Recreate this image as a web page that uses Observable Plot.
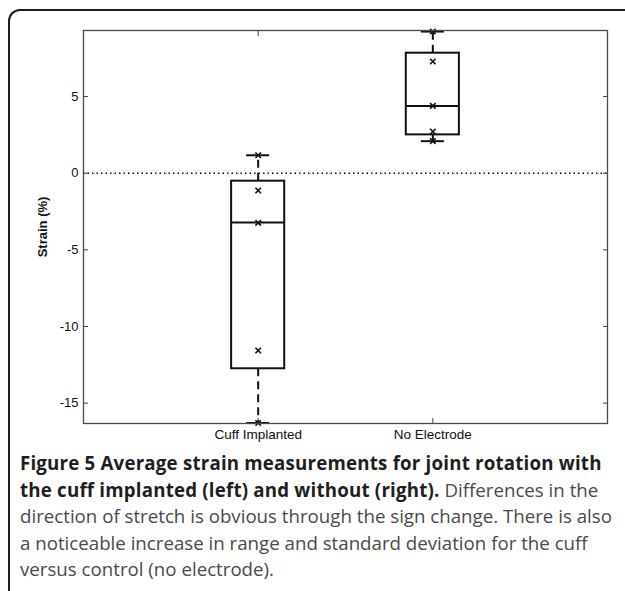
<!DOCTYPE html>
<html>
<head>
<meta charset="utf-8">
<script src="https://cdn.jsdelivr.net/npm/d3@7"></script>
<script src="https://cdn.jsdelivr.net/npm/@observablehq/plot@0.6"></script>
<style>
  html, body { margin: 0; padding: 0; background: #fff; width: 625px; height: 591px; overflow: hidden; }
  #wrap { position: relative; width: 625px; height: 591px; }
  #border { position: absolute; left: 8px; top: 9px; width: 700px; height: 700px;
            border-top: 2px solid #1e1e1e; border-left: 2px solid #1e1e1e; border-top-left-radius: 12px; box-sizing: border-box; }
  #chart { position: absolute; left: 0; top: 0; }
  #caption { position: absolute; left: 20px; top: 450px; width: 605px;
             font-family: "Open Sans", sans-serif; font-size: 18.7px; line-height: 26.5px; color: #4a4a4a; white-space: nowrap; }
  #caption b { color: #1e1e1e; font-weight: 700; letter-spacing: 0.2px; }
</style>
</head>
<body>
<div id="wrap">
  <div id="border"></div>
  <div id="chart"></div>
  <div id="caption"></div>
</div>
<script>
// ---- data ----
const groups = ["Cuff Implanted", "No Electrode"];
const q1 = [-12.76, 2.50];
const medians = [-3.22, 4.39];
const q3 = [-0.52, 7.83];
const whiskerLow = [-16.3, 2.09];
const whiskerHigh = [1.17, 9.24];
const pointsCuff = [1.17, -1.13, -3.24, -11.57, -16.3];
const pointsNoElectrode = [9.24, 7.29, 4.39, 2.72, 2.09];
const yTicks = [-15, -10, -5, 0, 5];
const yLabel = "Strain (%)";
const captionLines = [
  ["Figure 5 Average strain measurements for joint rotation with", ""],
  ["the cuff implanted (left) and without (right).", " Differences in the"],
  ["", "direction of stretch is obvious through the sign change. There is also"],
  ["", "a noticeable increase in range and standard deviation for the cuff"],
  ["", "versus control (no electrode)."]
];

// ---- build tables ----
const boxes = groups.map((g, i) => ({
  group: g, pos: i + 1,
  q1: q1[i], median: medians[i], q3: q3[i], lo: whiskerLow[i], hi: whiskerHigh[i]
}));
const pts = [
  ...pointsCuff.map(v => ({pos: 1, value: v})),
  ...pointsNoElectrode.map(v => ({pos: 2, value: v}))
];

const halfBox = 0.152, halfCap = 0.066;
const dash = "8,5";

const chart = Plot.plot({
  width: 625,
  height: 450,
  marginLeft: 83,
  marginRight: 18,
  marginTop: 30,
  marginBottom: 27,
  x: {domain: [0, 3]},
  y: {domain: [-16.33, 9.31]},
  style: {fontFamily: "'Liberation Sans', Arial, sans-serif", fontSize: "13px", color: "#111", background: "transparent", overflow: "visible"},
  marks: [
    Plot.ruleY([0], {stroke: "#111", strokeWidth: 1.6, strokeDasharray: "1.5,3"}),
    Plot.axisY(yTicks, {anchor: "left", tickSize: 0, tickPadding: 5, fontSize: 13, tickFormat: d => String(d), label: yLabel, labelAnchor: "center", labelOffset: 46, labelArrow: "none"}),
    Plot.axisY(yTicks, {anchor: "left", tickSize: -5, tickFormat: () => "", label: null, stroke: "#444"}),
    Plot.axisY(yTicks, {anchor: "right", tickSize: -5, tickFormat: () => "", label: null, stroke: "#444"}),
    Plot.axisX([1, 2], {anchor: "bottom", tickSize: 0, tickPadding: 6, fontSize: 13.5, tickFormat: d => groups[d - 1], label: null}),
    Plot.axisX([1, 2], {anchor: "bottom", tickSize: -5, tickFormat: () => "", label: null, stroke: "#444"}),
    Plot.axisX([1, 2], {anchor: "top", tickSize: -5, tickFormat: () => "", label: null, stroke: "#444"}),
    // whiskers
    Plot.ruleX(boxes, {x: "pos", y1: "q3", y2: "hi", stroke: "#111", strokeWidth: 2, strokeDasharray: dash}),
    Plot.ruleX(boxes, {x: "pos", y1: "q1", y2: "lo", stroke: "#111", strokeWidth: 2, strokeDasharray: dash}),
    // caps
    Plot.ruleY(boxes, {y: "hi", x1: d => d.pos - halfCap, x2: d => d.pos + halfCap, stroke: "#111", strokeWidth: 2}),
    Plot.ruleY(boxes, {y: "lo", x1: d => d.pos - halfCap, x2: d => d.pos + halfCap, stroke: "#111", strokeWidth: 2}),
    // boxes
    Plot.rect(boxes, {x1: d => d.pos - halfBox, x2: d => d.pos + halfBox, y1: "q1", y2: "q3", fill: "none", stroke: "#111", strokeWidth: 2}),
    Plot.ruleY(boxes, {y: "median", x1: d => d.pos - halfBox, x2: d => d.pos + halfBox, stroke: "#111", strokeWidth: 2}),
    // points
    Plot.dot(pts, {x: "pos", y: "value", symbol: "times", r: 2.6, stroke: "#111", strokeWidth: 1.6}),
    Plot.frame({stroke: "#4a4a4a", strokeWidth: 1.3})
  ]
});
document.getElementById("chart").appendChild(chart);
d3.select(chart).selectAll("[aria-label='y-axis label'], [aria-label='y-axis label'] text")
  .style("font-weight", "bold").style("font-size", "13px");

// caption, one line per row as in the reference
const cap = document.getElementById("caption");
captionLines.forEach(([b, t]) => {
  const line = document.createElement("div");
  if (b) { const el = document.createElement("b"); el.textContent = b; line.appendChild(el); }
  if (t) line.appendChild(document.createTextNode(t));
  cap.appendChild(line);
});
</script>
</body>
</html>
